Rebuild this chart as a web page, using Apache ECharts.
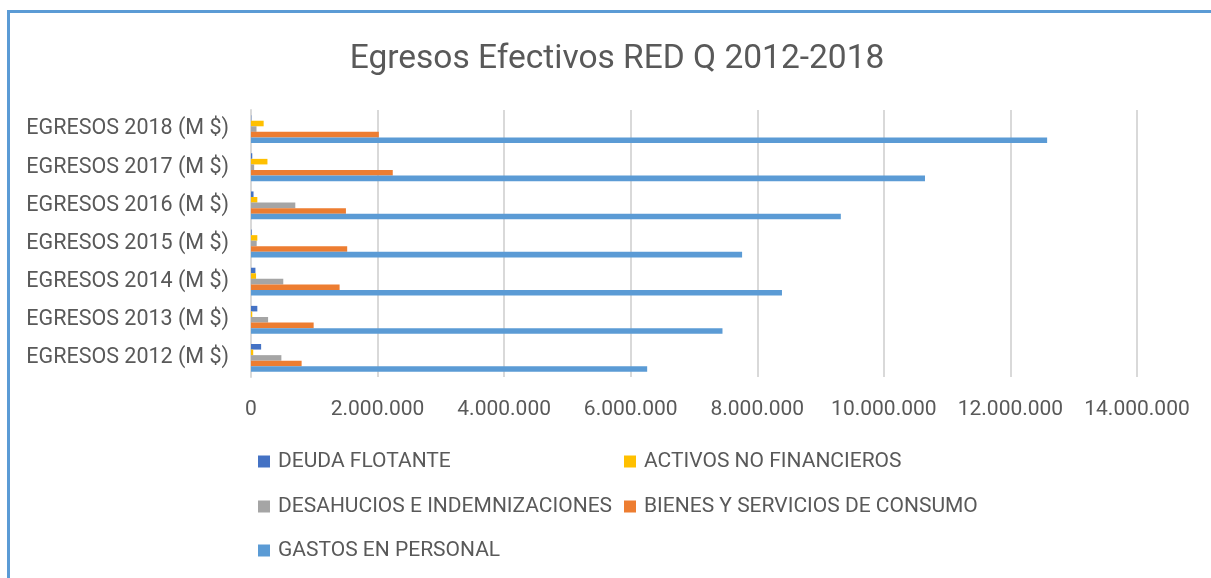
<!DOCTYPE html>
<html>
<head>
<meta charset="utf-8">
<script src="https://cdn.jsdelivr.net/npm/echarts@6/dist/echarts.min.js"></script>
<style>
  html, body { margin: 0; padding: 0; background: #ffffff; }
  #chart { width: 1211px; height: 578px; }
</style>
</head>
<body>
<div id="chart"></div>
<script>
// Egresos efectivos por año (pesos)
const categories = [
  'EGRESOS 2012 (M $)', 'EGRESOS 2013 (M $)', 'EGRESOS 2014 (M $)', 'EGRESOS 2015 (M $)',
  'EGRESOS 2016 (M $)', 'EGRESOS 2017 (M $)', 'EGRESOS 2018 (M $)'
];
const seriesNames = [
  'DEUDA FLOTANTE', 'ACTIVOS NO FINANCIEROS', 'DESAHUCIOS E INDEMNIZACIONES',
  'BIENES Y SERVICIOS DE CONSUMO', 'GASTOS EN PERSONAL'
];
const deudaFlotante = [160000, 100000, 70000, 10000, 40000, 20000, 5000];
const activosNoFinancieros = [35000, 20000, 80000, 100000, 100000, 260000, 200000];
const desahucios = [480000, 270000, 510000, 90000, 700000, 50000, 87000];
const bienesServicios = [800000, 990000, 1400000, 1520000, 1500000, 2240000, 2020000];
const gastosPersonal = [6260000, 7450000, 8390000, 7760000, 9320000, 10650000, 12580000];
const xTicks = { min: 0, max: 14000000, interval: 2000000 };

const colors = ['#4472C4', '#FFC000', '#A5A5A5', '#ED7D31', '#5B9BD5'];
const values = [deudaFlotante, activosNoFinancieros, desahucios, bienesServicios, gastosPersonal];
const FONT = 'Roboto';
const TEXT = '#595959';

function fmt(v) {
  return String(v).replace(/\B(?=(\d{3})+(?!\d))/g, '.');
}

// First series sits on top of each group of bars
const series = seriesNames.map((name, i) => ({
  name: name,
  type: 'bar',
  data: values[i],
  itemStyle: { color: colors[i] },
  barGap: '0%',
  barCategoryGap: '27%'
}));

// Legend laid out in two columns, three rows
const legendPos = [
  { left: 258, top: 451 },
  { left: 624, top: 451 },
  { left: 258, top: 496 },
  { left: 624, top: 496 },
  { left: 258, top: 540 }
];
const legends = seriesNames.map((name, i) => ({
  data: [name],
  left: legendPos[i].left,
  top: legendPos[i].top,
  padding: 0,
  icon: 'rect',
  itemWidth: 12,
  itemHeight: 12,
  itemGap: 0,
  selectedMode: false,
  textStyle: { fontFamily: FONT, fontSize: 21, color: TEXT, padding: [0, 0, 0, 3] }
}));

const chart = echarts.init(document.getElementById('chart'), null, { renderer: 'canvas' });
chart.setOption({
  animation: false,
  backgroundColor: '#ffffff',
  color: colors,
  title: {
    text: 'Egresos Efectivos RED Q 2012-2018',
    left: 612,
    top: 38,
    textAlign: 'center',
    textStyle: { fontFamily: FONT, fontSize: 33.5, fontWeight: 'normal', color: TEXT }
  },
  legend: legends,
  grid: { left: 251, right: 74, top: 110, bottom: 201, containLabel: false },
  xAxis: {
    type: 'value',
    min: xTicks.min,
    max: xTicks.max,
    interval: xTicks.interval,
    axisLine: { show: false },
    axisTick: { show: false },
    splitLine: { lineStyle: { color: '#D9D9D9', width: 2 } },
    axisLabel: {
      margin: 22,
      fontFamily: FONT, fontSize: 21, color: TEXT,
      formatter: fmt
    }
  },
  yAxis: {
    type: 'category',
    data: categories,
    axisLine: { show: true, lineStyle: { color: '#D9D9D9', width: 2 } },
    axisTick: { show: false },
    axisLabel: { margin: 22, fontFamily: FONT, fontSize: 21.5, color: TEXT }
  },
  graphic: [
    { type: 'line', shape: { x1: 8.5, y1: 11.5, x2: 1211, y2: 11.5 }, style: { stroke: '#5B9BD5', lineWidth: 3 } },
    { type: 'line', shape: { x1: 8.5, y1: 10, x2: 8.5, y2: 578 }, style: { stroke: '#5B9BD5', lineWidth: 3 } }
  ],
  series: series
});
</script>
</body>
</html>
